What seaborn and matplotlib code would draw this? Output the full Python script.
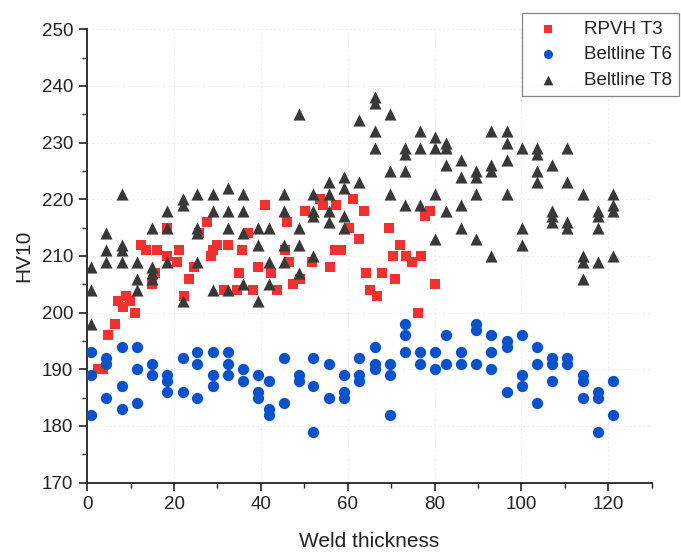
import matplotlib
matplotlib.use("Agg")
import matplotlib.pyplot as plt
import seaborn as sns
import pandas as pd

# RPVH T3 hardness readings (thickness, HV10)
t3_x = [2.5, 3.7, 4.7, 6.3, 7.0, 8.3, 9.0, 9.8, 11.0, 12.3, 13.5, 14.9, 15.7, 16.0,
        18.4, 18.4, 20.8, 21.2, 22.3, 23.5, 24.7, 25.8, 27.5, 28.4, 29.0, 30.0, 31.4,
        32.4, 34.4, 35.0, 35.6, 37.0, 38.2, 39.4, 40.9, 42.4, 43.6, 45.5, 46.0, 46.4,
        47.5, 49.1, 50.2, 51.8, 53.7, 54.2, 55.9, 57.0, 57.2, 58.4, 60.4, 61.1, 62.5,
        63.7, 64.2, 65.2, 66.7, 67.9, 69.4, 70.4, 70.9, 72.1, 73.5, 74.7, 76.1, 76.9,
        77.7, 78.9, 80.2]
t3_y = [190, 190, 196, 198, 202, 201, 203, 202, 200, 212, 211, 205, 207, 211,
        215, 210, 209, 211, 203, 206, 208, 214, 216, 210, 211, 212, 204,
        212, 204, 207, 211, 214, 204, 208, 219, 207, 204, 211, 216, 209,
        205, 206, 218, 209, 220, 219, 208, 211, 219, 211, 215, 220, 213,
        218, 207, 204, 203, 207, 215, 210, 206, 212, 210, 209, 200, 210,
        217, 218, 205]

# Beltline T6 hardness readings
t6_x = [0.8, 0.8, 0.8, 4.3, 4.3, 4.3, 8.0, 8.0, 8.0, 11.5, 11.5, 11.5, 14.9, 14.9,
        18.4, 18.4, 18.4, 22.0, 22.0, 25.4, 25.4, 25.4, 28.9, 28.9, 28.9,
        32.4, 32.4, 32.4, 35.9, 35.9, 39.4, 39.4, 39.4, 41.8, 41.8, 41.8,
        45.3, 45.3, 48.8, 48.8, 52.1, 52.1, 52.1, 55.7, 55.7, 59.2, 59.2, 59.2,
        62.7, 62.7, 62.7, 66.2, 66.2, 66.2, 69.7, 69.7, 69.7, 73.2, 73.2, 73.2,
        76.7, 76.7, 80.2, 80.2, 82.6, 82.6, 86.1, 86.1, 89.6, 89.6, 89.6,
        93.1, 93.1, 93.1, 96.6, 96.6, 96.6, 100.2, 100.2, 100.2, 103.6, 103.6, 103.6,
        107.1, 107.1, 107.1, 110.6, 110.6, 114.1, 114.1, 114.1, 117.6, 117.6, 117.6,
        121.1, 121.1]
t6_y = [193, 189, 182, 192, 191, 185, 194, 187, 183, 194, 190, 184, 191, 189,
        189, 188, 186, 192, 186, 193, 191, 185, 193, 189, 187,
        193, 191, 189, 190, 188, 189, 186, 185, 188, 183, 182,
        192, 184, 189, 188, 192, 187, 179, 191, 185, 189, 186, 185,
        192, 189, 188, 194, 191, 190, 191, 189, 182, 198, 196, 193,
        193, 191, 193, 190, 196, 191, 193, 191, 198, 197, 191,
        196, 193, 190, 195, 194, 186, 196, 189, 187, 194, 191, 184,
        192, 191, 188, 192, 191, 189, 188, 185, 186, 185, 179,
        188, 182]

# Beltline T8 hardness readings
t8_x = [0.8, 0.8, 0.8, 4.3, 4.3, 4.3, 8.0, 8.0, 8.0, 8.0, 11.5, 11.5, 11.5,
        14.9, 14.9, 14.9, 14.9, 18.4, 18.4, 18.4, 22.0, 22.0, 22.0,
        25.4, 25.4, 25.4, 25.4, 28.9, 28.9, 28.9, 32.4, 32.4, 32.4, 32.4,
        35.9, 35.9, 35.9, 35.9, 39.4, 39.4, 39.4, 41.8, 41.8, 41.8,
        45.3, 45.3, 45.3, 45.3, 48.8, 48.8, 48.8, 48.8, 52.1, 52.1, 52.1, 52.1,
        55.7, 55.7, 55.7, 55.7, 59.2, 59.2, 59.2, 59.2, 62.7, 62.7,
        66.2, 66.2, 66.2, 66.2, 69.7, 69.7, 69.7, 73.2, 73.2, 73.2, 73.2,
        76.7, 76.7, 76.7, 80.2, 80.2, 80.2, 80.2, 82.6, 82.6, 82.6, 82.6,
        86.1, 86.1, 86.1, 86.1, 89.6, 89.6, 89.6, 89.6, 93.1, 93.1, 93.1, 93.1,
        96.6, 96.6, 96.6, 96.6, 100.2, 100.2, 100.2, 103.6, 103.6, 103.6, 103.6,
        107.1, 107.1, 107.1, 107.1, 110.6, 110.6, 110.6, 110.6,
        114.1, 114.1, 114.1, 114.1, 117.6, 117.6, 117.6, 117.6,
        121.1, 121.1, 121.1, 121.1]
t8_y = [208, 204, 198, 214, 211, 209, 221, 212, 211, 209, 209, 206, 204,
        215, 208, 207, 206, 218, 215, 209, 220, 219, 202,
        221, 215, 214, 209, 221, 218, 204, 222, 218, 215, 204,
        221, 218, 214, 205, 215, 212, 202, 215, 209, 205,
        221, 218, 212, 209, 235, 215, 212, 207, 221, 218, 217, 210,
        223, 221, 218, 216, 224, 222, 217, 215, 234, 223,
        238, 237, 232, 229, 235, 225, 221, 229, 228, 225, 219,
        232, 229, 219, 231, 229, 221, 213, 230, 229, 226, 218,
        227, 224, 219, 215, 225, 224, 221, 213, 232, 226, 225, 210,
        232, 230, 227, 221, 229, 215, 212, 229, 228, 225, 223,
        226, 218, 217, 216, 229, 223, 216, 215,
        221, 210, 209, 206, 218, 217, 215, 209,
        221, 219, 218, 210]

series_names = ["RPVH T3", "Beltline T6", "Beltline T8"]
colors = {"RPVH T3": "#f2302f", "Beltline T6": "#0a52cc", "Beltline T8": "#383838"}
markers = {"RPVH T3": "s", "Beltline T6": "o", "Beltline T8": "^"}
sizes = {"RPVH T3": 52, "Beltline T6": 66, "Beltline T8": 76}

frames = []
for name, xs, ys in zip(series_names, [t3_x, t6_x, t8_x], [t3_y, t6_y, t8_y]):
    frames.append(pd.DataFrame({"thickness": xs, "hv": ys, "series": name}))
df = pd.concat(frames, ignore_index=True)

sns.set_style("white")
plt.rcParams["font.family"] = ["Liberation Sans", "DejaVu Sans"]

fig = plt.figure(figsize=(6.81, 5.55), dpi=100)
ax = fig.add_axes([0.128, 0.1305, 0.829, 0.8167])

for name in series_names:
    sub = df[df["series"] == name]
    sns.scatterplot(data=sub, x="thickness", y="hv", ax=ax, color=colors[name],
                    marker=markers[name], s=sizes[name], linewidth=0, label=name,
                    zorder=3)

ax.set_xlim(0, 130)
ax.set_ylim(170, 250)
ax.set_xticks(range(0, 121, 20))
ax.set_xticks(range(10, 131, 20), minor=True)
ax.set_yticks(range(170, 251, 10))
ax.set_yticks(range(175, 250, 10), minor=True)

ax.grid(True, which="major", color="#f0f0f0", linestyle=(0, (2, 2)), linewidth=0.8, zorder=0)
ax.set_axisbelow(True)

for side in ["top", "right"]:
    ax.spines[side].set_visible(False)
for side in ["left", "bottom"]:
    ax.spines[side].set_color("#222222")
    ax.spines[side].set_linewidth(1.3)

ax.tick_params(axis="both", which="major", direction="out", length=6, width=1.2,
               colors="#222222", labelsize=13.5, labelcolor="#222222", pad=4)
ax.tick_params(axis="both", which="minor", direction="out", length=3.5, width=1.0,
               colors="#222222")
ax.tick_params(bottom=True, left=True, which="both")

ax.set_xlabel("Weld thickness", fontsize=15, color="#222222", labelpad=13)
ax.set_ylabel("HV10", fontsize=15, color="#222222", labelpad=6)

leg = ax.legend(loc="upper left", bbox_to_anchor=(522 / 681, 1 - 13 / 555),
                bbox_transform=fig.transFigure, frameon=True, fancybox=False,
                edgecolor="#666666", fontsize=13.5, borderaxespad=0,
                handletextpad=0.9, labelspacing=0.45, borderpad=0.4,
                markerscale=0.8)
leg.get_frame().set_linewidth(0.9)
for t in leg.get_texts():
    t.set_color("#222222")

fig.savefig("out.png", dpi=100)
